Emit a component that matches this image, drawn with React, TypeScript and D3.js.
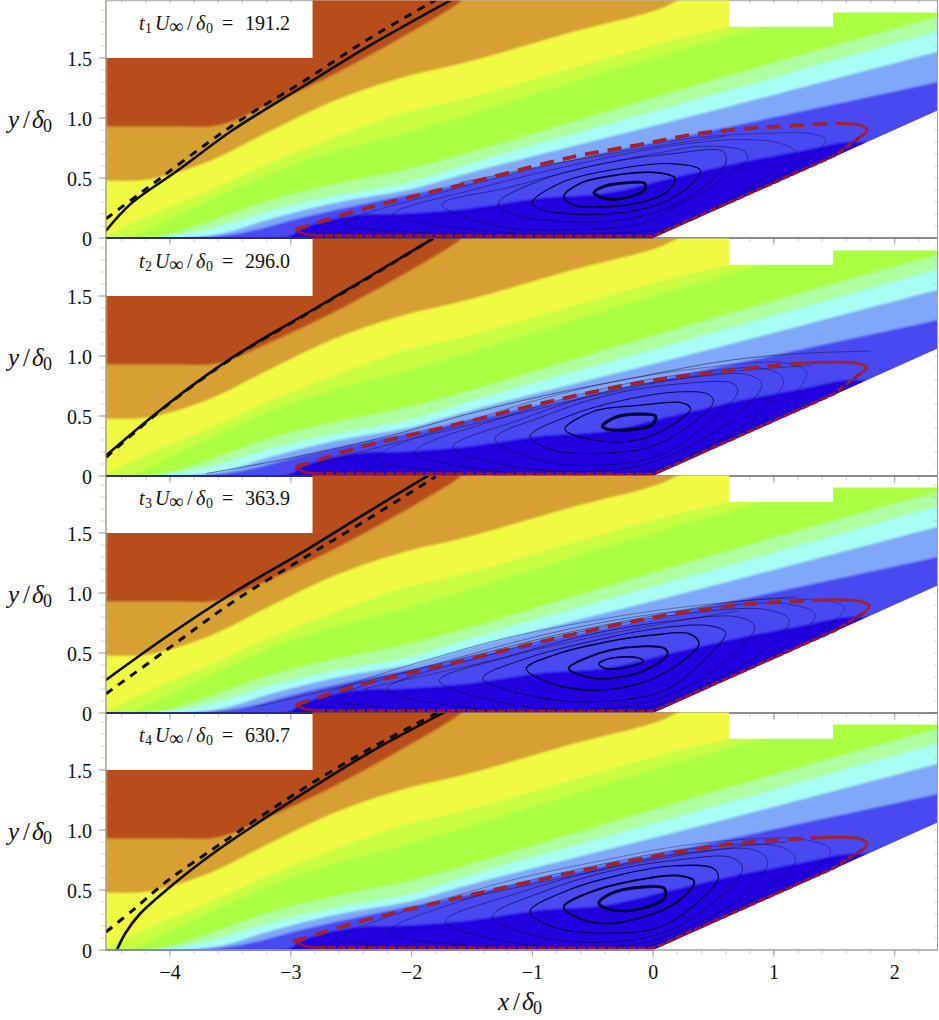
import React from "react";
import * as d3 from "d3";

type P = [number, number];

const panelZeros = [238, 476, 713, 950];
const panelTimes = ["191.2", "296.0", "363.9", "630.7"];
const xMajor = [-4, -3, -2, -1, 0, 1, 2];
const xMinor = d3.range(-22, 12).map((d) => d / 5);
const yMajor = [0, 0.5, 1, 1.5];
const yLabels = ["0", "0.5", "1.0", "1.5"];
const yMinor = d3.range(0, 20).map((d) => d / 10);

const bandColors = ["#b84e1e", "#d6a032", "#f0fa42", "#c8fd42", "#aaff42", "#aeffa0", "#a6fff2", "#80a8f8", "#4848f2", "#2000e0"];
const bandTops: P[][] = [
  [[-4.53, 3], [3, 3]],
  [[-4.53, 0.93], [-4.0, 0.93], [-3.6, 0.94], [-3.2, 1.1], [-2.65, 1.36], [-2.1, 1.66], [-1.62, 1.95], [-1.5, 2.05], [3, 2.05]],
  [[-4.53, 0.48], [-4.2, 0.485], [-3.7, 0.63], [-3.15, 0.9], [-2.65, 1.14], [-2.1, 1.33], [-1.52, 1.47], [-0.69, 1.71], [0.03, 1.9], [0.2, 1.98], [0.3, 2.05], [3, 2.05]],
  [[-4.53, 0.01], [-4.25, 0.15], [-3.7, 0.385], [-3.15, 0.635], [-2.47, 0.9], [-2.1, 1.03], [-1.52, 1.17], [-0.69, 1.41], [0.2, 1.66], [0.62, 1.76], [1.4, 2.1], [3, 2.4]],
  [[-4.3, 0.01], [-3.42, 0.43], [-2.87, 0.65], [-2.04, 0.88], [-1.52, 1.03], [-0.69, 1.29], [0.2, 1.56], [0.62, 1.68], [1.0, 1.8], [1.5, 2.02], [3, 2.4]],
  [[-4.2, 0], [-3.97, 0.04], [-3.15, 0.32], [-2.6, 0.456], [-2.04, 0.57], [-1.49, 0.72], [-0.69, 0.96], [0.41, 1.29], [2.35, 1.84], [3, 2.0]],
  [[-4.1, 0], [-3.7, 0.07], [-3.15, 0.233], [-2.6, 0.358], [-2.04, 0.46], [-1.49, 0.63], [0.41, 1.17], [2.35, 1.72], [3, 1.9]],
  [[-3.9, 0], [-3.56, 0.04], [-3.15, 0.164], [-2.6, 0.3], [-2.04, 0.4], [-1.49, 0.553], [0.41, 1.04], [2.35, 1.55], [3, 1.72]],
  [[-3.8, 0], [-3.42, 0.04], [-2.87, 0.18], [-2.32, 0.3], [-1.77, 0.41], [-1.49, 0.475], [0.39, 0.875], [2.35, 1.3], [3, 1.45]],
  [[-3.4, 0], [-3.03, 0.01], [-2.87, 0.095], [-2.46, 0.19], [-2.04, 0.205], [-1.49, 0.25], [-0.96, 0.33], [-0.41, 0.37], [0.2, 0.51], [0.7, 0.625], [1.24, 0.73], [1.6, 0.8], [1.76, 0.8], [3, 0.8]],
];
const fieldOutline: P[] = [[-4.53, 0], [0, 0], [2.35, 1.06], [2.35, 1.88], [1.49, 1.88], [1.49, 1.76], [0.63, 1.76], [0.63, 1.98], [-2.82, 1.98], [-2.82, 1.5], [-4.53, 1.5]];

const solidFronts: P[][] = [
  [[-4.53, 0.06], [-4.33, 0.28], [-3.94, 0.56], [-3.48, 0.9], [-2.92, 1.25], [-2.37, 1.59], [-1.66, 1.99]],
  [[-4.53, 0.17], [-4.03, 0.59], [-3.48, 0.99], [-2.92, 1.325], [-2.37, 1.65], [-1.82, 1.98]],
  [[-4.53, 0.275], [-4.03, 0.635], [-3.48, 1.0], [-2.92, 1.33], [-2.37, 1.67], [-1.86, 1.98]],
  [[-4.44, 0], [-4.37, 0.14], [-4.25, 0.3], [-4.03, 0.5], [-3.65, 0.8], [-2.92, 1.29], [-2.34, 1.65], [-1.71, 1.99]],
];
const dashedFronts: P[][] = [
  [[-4.53, 0.16], [-4.23, 0.385], [-3.48, 0.94], [-2.92, 1.29], [-2.37, 1.65], [-1.79, 1.99]],
  [[-4.53, 0.155], [-4.03, 0.585], [-3.48, 0.985], [-2.92, 1.32], [-2.37, 1.645], [-1.82, 1.98]],
  [[-4.53, 0.16], [-4.03, 0.525], [-3.48, 0.925], [-2.92, 1.275], [-2.37, 1.61], [-1.8, 1.97]],
  [[-4.53, 0.15], [-4.31, 0.33], [-4.03, 0.57], [-3.69, 0.81], [-2.92, 1.33], [-2.34, 1.68], [-1.76, 1.99]],
];

const bubbleTops: P[][] = [
  [[-2.96, 0.07], [-2.37, 0.25], [-1.52, 0.46], [-0.69, 0.67], [-0.13, 0.775], [0.41, 0.875], [0.97, 0.925], [1.52, 0.955], [1.73, 0.935], [1.77, 0.895], [1.71, 0.84]],
  [[-2.96, 0.075], [-2.43, 0.24], [-1.69, 0.415], [-0.88, 0.615], [-0.1, 0.78], [0.6, 0.875], [1.24, 0.94], [1.68, 0.94], [1.77, 0.905], [1.71, 0.85]],
  [[-2.96, 0.067], [-2.43, 0.233], [-1.69, 0.408], [-0.87, 0.608], [-0.1, 0.775], [0.71, 0.9], [1.35, 0.94], [1.72, 0.93], [1.79, 0.89], [1.74, 0.83]],
  [[-2.98, 0.07], [-2.43, 0.236], [-1.69, 0.417], [-0.87, 0.6], [-0.1, 0.76], [0.71, 0.89], [1.35, 0.935], [1.7, 0.93], [1.77, 0.89], [1.74, 0.84]],
];
const bubbleDiagonal: P[] = [[1.5, 0.685], [0, 0.015], [-2.75, 0.02]];
const bubbleNose: P[] = [[-2.75, 0.02], [-2.88, 0.032], [-2.96, 0.07]];

const rings1: P[][] = [
  [[-0.49, 0.378], [-0.41, 0.428], [-0.22, 0.46], [-0.07, 0.455], [-0.07, 0.4], [-0.19, 0.345], [-0.38, 0.325]],
  [[-0.74, 0.345], [-0.605, 0.455], [-0.3, 0.525], [0.03, 0.545], [0.18, 0.5], [0.114, 0.385], [-0.135, 0.29], [-0.41, 0.26], [-0.66, 0.275]],
  [[-1.0, 0.3], [-0.74, 0.47], [-0.36, 0.565], [0.14, 0.62], [0.39, 0.565], [0.31, 0.44], [0.03, 0.275], [-0.33, 0.205], [-0.74, 0.205], [-0.96, 0.248]],
  [[-1.28, 0.29], [-0.96, 0.47], [-0.41, 0.62], [0.14, 0.7], [0.58, 0.72], [0.6, 0.62], [0.42, 0.43], [0.08, 0.235], [-0.27, 0.15], [-0.69, 0.135], [-1.19, 0.205]],
  [[-1.75, 0.28], [-1.2, 0.42], [-0.6, 0.58], [0, 0.7], [0.42, 0.765], [0.76, 0.72], [0.78, 0.66], [0.55, 0.47], [0.2, 0.27], [-0.1, 0.12], [-0.6, 0.07], [-1.3, 0.1]],
  [[-2.15, 0.2], [-1.5, 0.4], [-0.7, 0.6], [0.1, 0.76], [0.7, 0.82], [1.05, 0.79], [1.18, 0.71], [1.0, 0.56], [0.6, 0.3], [0.15, 0.09], [-0.5, 0.04], [-1.4, 0.06]],
  [[-2.55, 0.12], [-1.6, 0.42], [-0.7, 0.64], [0.3, 0.83], [0.9, 0.87], [1.3, 0.87], [1.43, 0.82], [1.2, 0.6], [0.75, 0.36], [0.1, 0.05], [-0.8, 0.02], [-1.8, 0.04]],
];
const rings2: P[][] = [
  [[-0.42, 0.415], [-0.31, 0.49], [-0.13, 0.515], [0.02, 0.5], [-0.01, 0.425], [-0.21, 0.385], [-0.38, 0.39]],
  [[-0.73, 0.39], [-0.49, 0.54], [-0.1, 0.59], [0.24, 0.61], [0.31, 0.56], [0.18, 0.44], [-0.13, 0.3], [-0.49, 0.3]],
  [[-1.02, 0.33], [-0.7, 0.5], [-0.3, 0.62], [0.2, 0.7], [0.46, 0.68], [0.5, 0.62], [0.3, 0.42], [0, 0.25], [-0.4, 0.19], [-0.85, 0.22]],
  [[-1.31, 0.31], [-0.9, 0.5], [-0.35, 0.68], [0.25, 0.77], [0.66, 0.77], [0.7, 0.7], [0.45, 0.44], [0.12, 0.2], [-0.3, 0.1], [-0.9, 0.12]],
  [[-1.66, 0.24], [-1.1, 0.47], [-0.4, 0.7], [0.3, 0.82], [0.8, 0.84], [0.9, 0.76], [0.65, 0.47], [0.2, 0.2], [-0.25, 0.06], [-1.1, 0.07]],
  [[-1.97, 0.2], [-1.2, 0.5], [-0.4, 0.73], [0.35, 0.86], [0.95, 0.89], [1.08, 0.8], [0.85, 0.5], [0.4, 0.22], [-0.1, 0.03], [-1.2, 0.03]],
  [[-2.29, 0.15], [-1.3, 0.53], [-0.4, 0.77], [0.4, 0.9], [1.1, 0.94], [1.27, 0.86], [1.0, 0.52], [0.45, 0.24], [-0.05, 0.02], [-1.5, 0.02]],
];
const rings3: P[][] = [
  [[-0.45, 0.41], [-0.35, 0.456], [-0.13, 0.46], [-0.08, 0.43], [-0.27, 0.372], [-0.4, 0.372]],
  [[-0.7, 0.372], [-0.55, 0.46], [-0.35, 0.525], [-0.1, 0.555], [0.09, 0.54], [0.12, 0.49], [-0.02, 0.38], [-0.17, 0.32], [-0.49, 0.29]],
  [[-1.05, 0.37], [-0.8, 0.49], [-0.4, 0.59], [0, 0.65], [0.3, 0.66], [0.38, 0.58], [0.2, 0.4], [-0.1, 0.25], [-0.5, 0.19], [-0.85, 0.25]],
  [[-1.41, 0.29], [-1, 0.47], [-0.5, 0.6], [0, 0.7], [0.45, 0.73], [0.6, 0.67], [0.45, 0.47], [0.12, 0.2], [-0.35, 0.1], [-0.95, 0.13]],
  [[-1.77, 0.27], [-1.2, 0.47], [-0.5, 0.66], [0.1, 0.76], [0.7, 0.8], [0.84, 0.72], [0.6, 0.43], [0.2, 0.18], [-0.25, 0.05], [-1.1, 0.06]],
  [[-2.2, 0.2], [-1.3, 0.5], [-0.5, 0.7], [0.2, 0.82], [0.95, 0.86], [1.13, 0.77], [0.85, 0.47], [0.35, 0.2], [-0.1, 0.03], [-1.4, 0.03]],
  [[-2.6, 0.12], [-1.4, 0.52], [-0.5, 0.74], [0.3, 0.86], [1.1, 0.91], [1.34, 0.82], [1.05, 0.52], [0.45, 0.22], [0, 0.02], [-1.7, 0.02]],
  [[-2.8, 0.09], [-1.5, 0.55], [-0.5, 0.77], [0.4, 0.9], [1.2, 0.95], [1.58, 0.88], [1.3, 0.62], [0.6, 0.28], [0.05, 0.02], [-2, 0.02]],
];
const rings4: P[][] = [
  [[-0.45, 0.39], [-0.35, 0.47], [-0.13, 0.52], [0.09, 0.515], [0.1, 0.44], [-0.1, 0.345], [-0.35, 0.335]],
  [[-0.74, 0.36], [-0.5, 0.49], [-0.15, 0.58], [0.2, 0.62], [0.34, 0.57], [0.2, 0.4], [-0.1, 0.27], [-0.4, 0.22], [-0.65, 0.28]],
  [[-1.02, 0.32], [-0.7, 0.5], [-0.3, 0.62], [0.15, 0.7], [0.5, 0.68], [0.54, 0.6], [0.35, 0.38], [0.05, 0.19], [-0.4, 0.14], [-0.85, 0.2]],
  [[-1.33, 0.28], [-0.9, 0.49], [-0.35, 0.66], [0.2, 0.75], [0.65, 0.77], [0.74, 0.68], [0.55, 0.44], [0.15, 0.17], [-0.3, 0.07], [-0.95, 0.11]],
  [[-1.72, 0.24], [-1.1, 0.48], [-0.4, 0.68], [0.3, 0.81], [0.85, 0.83], [0.95, 0.73], [0.7, 0.42], [0.25, 0.17], [-0.2, 0.04], [-1.1, 0.05]],
  [[-2.19, 0.15], [-1.3, 0.5], [-0.4, 0.72], [0.35, 0.85], [1.05, 0.86], [1.18, 0.76], [0.9, 0.47], [0.4, 0.2], [-0.1, 0.02], [-1.4, 0.03]],
  [[-2.57, 0.1], [-1.4, 0.52], [-0.4, 0.75], [0.4, 0.89], [1.25, 0.92], [1.47, 0.83], [1.15, 0.55], [0.5, 0.23], [0, 0.015], [-1.7, 0.02]],
];
const panelRings = [rings1, rings2, rings3, rings4];
const ringWidths = [
  [3, 1.7, 1.1, 0.9, 0.7, 0.6, 0.5],
  [3.2, 1.2, 0.9, 0.8, 0.7, 0.6, 0.5],
  [1.6, 2, 1.4, 1.1, 0.8, 0.7, 0.6, 0.5],
  [3, 2, 1.2, 0.9, 0.7, 0.6, 0.5],
];
const shearLines: P[][][] = [
  [[[-1.6, 0.46], [-0.7, 0.64], [0, 0.76], [0.6, 0.85]]],
  [
    [[-3.7, 0.02], [-3, 0.15], [-2.2, 0.33], [-1.52, 0.52], [-0.9, 0.67], [-0.1, 0.83], [0.6, 0.96], [1.2, 1.02], [1.8, 1.04]],
    [[-2.8, 0.1], [-2, 0.31], [-1.2, 0.5], [-0.4, 0.69], [0.4, 0.84], [1, 0.9], [1.3, 0.92]],
  ],
  [
    [[-3.3, 0.05], [-2.4, 0.26], [-1.6, 0.45], [-0.8, 0.65], [0, 0.81], [0.7, 0.93], [1.2, 0.97]],
    [[-2.4, 0.2], [-1.5, 0.4], [-0.7, 0.59], [0, 0.73], [0.7, 0.85]],
  ],
  [[[-1.6, 0.42], [-0.8, 0.59], [0, 0.75], [0.7, 0.86], [1.1, 0.9]]],
];

const W = 939;
const H = 1020;
const x = d3.scaleLinear().domain([-4.53, 2.35]).range([106, 937]);
const serif = "'Liberation Serif', 'Times New Roman', serif";

function AxisName({ letter, px, py }: { letter: string; px: number; py: number }) {
  return (
    <text y={py} fontFamily={serif} fontSize={25} fill="#111">
      <tspan x={px} fontStyle="italic">{letter}</tspan>
      <tspan x={px + 15}>/</tspan>
      <tspan x={px + 24} fontStyle="italic">δ</tspan>
      <tspan x={px + 35} fontSize={18} dy={4}>0</tspan>
    </text>
  );
}

function TimeLabel({ index, py }: { index: number; py: number }) {
  return (
    <text y={py} fontFamily={serif} fontSize={20} fill="#111">
      <tspan x={139} fontStyle="italic">t</tspan>
      <tspan x={145} fontSize={14} dy={3}>{index + 1}</tspan>
      <tspan x={155} fontStyle="italic" dy={-3}>U</tspan>
      <tspan x={169} fontSize={20} dy={3}>∞</tspan>
      <tspan x={187} dy={-3}>/</tspan>
      <tspan x={196} fontStyle="italic">δ</tspan>
      <tspan x={206} fontSize={14} dy={3}>0</tspan>
      <tspan x={222} dy={-3}>=</tspan>
      <tspan x={245}>{panelTimes[index]}</tspan>
    </text>
  );
}

function Panel({ index }: { index: number }) {
  const zero = panelZeros[index];
  const y = d3.scaleLinear().domain([0, 1.98]).range([zero, zero - 237.6]);
  const clipId = `field-${index}`;
  const rectId = `panel-${index}`;
  const outlinePath = d3.line<P>().x((d) => x(d[0])).y((d) => y(d[1])).curve(d3.curveLinearClosed)(fieldOutline)!;
  const area = d3.area<P>().x((d) => x(d[0])).y0(y(-1)).y1((d) => y(d[1])).curve(d3.curveCatmullRom.alpha(0.5));
  const smooth = d3.line<P>().x((d) => x(d[0])).y((d) => y(d[1])).curve(d3.curveCatmullRom.alpha(0.5));
  const straight = d3.line<P>().x((d) => x(d[0])).y((d) => y(d[1]));
  const ring = d3.line<P>().x((d) => x(d[0])).y((d) => y(d[1])).curve(d3.curveCatmullRomClosed.alpha(0.5));
  const top = bubbleTops[index];
  const split = top.findIndex((d) => d[0] > 1.0);
  const dashedPart = top.slice(0, split + 1);
  const last = top[top.length - 1];
  const lowerPart: P[] = [last, ...bubbleDiagonal];
  const widths = ringWidths[index];

  return (
    <g>
      <defs>
        <clipPath id={clipId}><path d={outlinePath} /></clipPath>
        <clipPath id={rectId}><rect x={106} y={zero - 237} width={831} height={237} /></clipPath>
      </defs>
      <g clipPath={`url(#${clipId})`}>
        <g filter="url(#soft)">
          {bandTops.map((b, i) => (
            <path key={i} d={area(b)!} fill={bandColors[i]} />
          ))}
        </g>
      </g>
      <g clipPath={`url(#${clipId})`} filter="url(#softer)">
        {shearLines[index].map((l, i) => (
          <path key={i} d={smooth(l)!} fill="none" stroke="#223" strokeWidth={0.8} strokeOpacity={0.7} />
        ))}
        {panelRings[index].map((r, i) => (
          <path key={i} d={ring(r)!} fill="none" stroke="#00003a" strokeWidth={widths[i]} strokeOpacity={i < 3 ? 1 : 0.7} />
        ))}
      </g>
      <g clipPath={`url(#${rectId})`} filter="url(#softer)">
        <path d={straight(lowerPart)!} fill="none" stroke="#98182e" strokeWidth={3} strokeDasharray="8 2" />
        <path d={smooth(bubbleNose)!} fill="none" stroke="#98182e" strokeWidth={2.6} />
        <path d={smooth(top.slice(split))!} fill="none" stroke="#a3202c" strokeWidth={2.8} />
        <path d={smooth(dashedPart)!} fill="none" stroke="#a3202c" strokeWidth={3.8} strokeDasharray="14 9" />
        <path d={smooth(solidFronts[index])!} fill="none" stroke="#0a0a0a" strokeWidth={2.6} />
        <path d={smooth(dashedFronts[index])!} fill="none" stroke="#0a0a0a" strokeWidth={3} strokeDasharray="8 7" />
      </g>
      <g stroke="#8a8a8a" fill="none">
        {xMinor.map((v) => (
          <line key={`b${v}`} x1={x(v)} x2={x(v)} y1={zero} y2={zero + 4} strokeWidth={0.7} strokeOpacity={0.6} />
        ))}
        {xMajor.map((v) => (
          <line key={`B${v}`} x1={x(v)} x2={x(v)} y1={zero} y2={zero + 7} strokeWidth={0.9} strokeOpacity={0.8} />
        ))}
        {yMinor.map((v) => (
          <line key={`l${v}`} x1={100.5} x2={106} y1={y(v)} y2={y(v)} strokeWidth={0.6} strokeOpacity={0.6} />
        ))}
        {yMinor.map((v) => (
          <line key={`r${v}`} x1={934} x2={937} y1={y(v)} y2={y(v)} strokeWidth={0.6} strokeOpacity={0.6} />
        ))}
        {yMajor.map((v) => (
          <line key={`L${v}`} x1={98} x2={106} y1={y(v)} y2={y(v)} strokeWidth={0.9} strokeOpacity={0.8} />
        ))}
        <line x1={106} x2={106} y1={zero - 237.6} y2={zero} stroke="#8c8c6e" strokeWidth={1.2} />
        <line x1={937.5} x2={937.5} y1={zero - 237.6} y2={zero} stroke="#a0a0a0" strokeWidth={1} />
        <line x1={106} x2={x(0)} y1={zero} y2={zero} stroke={index === 3 ? "#7f88c8" : "#2a2a78"} strokeWidth={1.8} />
        <line x1={x(0)} x2={937.5} y1={zero} y2={zero} stroke={index === 3 ? "#a0a0a0" : "#666"} strokeWidth={1.4} />
      </g>
      {yMajor.map((v, i) => (
        <text key={v} x={92} y={y(v) + 7.5} textAnchor="end" fontFamily={serif} fontSize={20} fill="#111">
          {yLabels[i]}
        </text>
      ))}
      <AxisName letter="y" px={8} py={zero - 110} />
      <TimeLabel index={index} py={zero - 208} />
    </g>
  );
}

export default function App() {
  return (
    <svg width={W} height={H} viewBox={`0 0 ${W} ${H}`} style={{ position: "absolute", left: 0, top: 0, display: "block", background: "#fff" }}>
      <defs>
        <filter id="soft" x="-2%" y="-2%" width="104%" height="104%"><feGaussianBlur stdDeviation="0.9" /></filter>
        <filter id="softer" x="-2%" y="-2%" width="104%" height="104%"><feGaussianBlur stdDeviation="0.45" /></filter>
      </defs>
      <line x1={106} x2={937.5} y1={0.7} y2={0.7} stroke="#a8a8a8" strokeWidth={1} />
      {xMinor.map((v) => (
        <line key={v} x1={x(v)} x2={x(v)} y1={0} y2={3.5} stroke="#999" strokeWidth={0.6} />
      ))}
      {panelZeros.map((_, i) => (
        <Panel key={i} index={i} />
      ))}
      {xMajor.map((v) => (
        <text key={v} x={x(v)} y={979} textAnchor="middle" fontFamily={serif} fontSize={20} fill="#111">
          {v < 0 ? `−${-v}` : v}
        </text>
      ))}
      <AxisName letter="x" px={498} py={1010} />
    </svg>
  );
}
